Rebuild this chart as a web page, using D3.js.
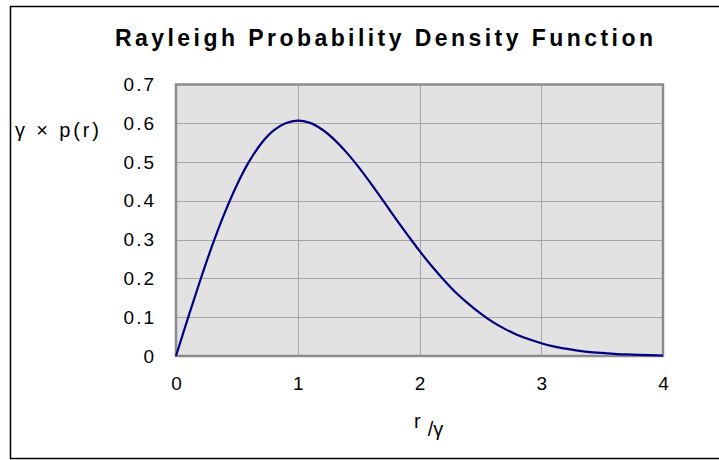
<!DOCTYPE html>
<html>
<head>
<meta charset="utf-8">
<script src="https://cdn.jsdelivr.net/npm/d3@7"></script>
<style>
  html, body { margin: 0; padding: 0; background: #fff; }
  svg { display: block; font-family: "Liberation Sans", Arial, sans-serif; }
</style>
</head>
<body>
<svg id="chart" width="719" height="460"></svg>
<script>
// Rayleigh density sampled along the normalised radius r/γ
const rValues = [0.0, 0.1, 0.2, 0.3, 0.4, 0.5, 0.6, 0.7, 0.8, 0.9,
                 1.0, 1.1, 1.2, 1.3, 1.4, 1.5, 1.6, 1.7, 1.8, 1.9,
                 2.0, 2.1, 2.2, 2.3, 2.4, 2.5, 2.6, 2.7, 2.8, 2.9,
                 3.0, 3.1, 3.2, 3.3, 3.4, 3.5, 3.6, 3.7, 3.8, 3.9, 4.0];
const densityValues = [0.000, 0.0995, 0.196, 0.287, 0.369, 0.441, 0.501, 0.548, 0.581, 0.600,
                       0.607, 0.601, 0.584, 0.558, 0.525, 0.487, 0.445, 0.401, 0.356, 0.313,
                       0.271, 0.232, 0.196, 0.163, 0.135, 0.110, 0.088, 0.070, 0.055, 0.043,
                       0.033, 0.025, 0.019, 0.014, 0.010, 0.008, 0.0055, 0.004, 0.003, 0.002, 0.0013];
const xTicks = [0, 1, 2, 3, 4];
const yTicks = [0, 0.1, 0.2, 0.3, 0.4, 0.5, 0.6, 0.7];
const yTickLabels = ["0", "0.1", "0.2", "0.3", "0.4", "0.5", "0.6", "0.7"];

const svg = d3.select("#chart");
const plot = { left: 176, right: 663, top: 84.5, bottom: 356 };

const x = d3.scaleLinear().domain([0, 4]).range([plot.left, plot.right]);
const y = d3.scaleLinear().domain([0, 0.7]).range([plot.bottom, plot.top]);

// outer chart frame
svg.append("rect")
  .attr("x", 10.5).attr("y", 6.5)
  .attr("width", 720).attr("height", 452)
  .attr("fill", "#fff").attr("stroke", "#000").attr("stroke-width", 1.5);

// plot area background
svg.append("rect")
  .attr("x", plot.left).attr("y", plot.top)
  .attr("width", plot.right - plot.left).attr("height", plot.bottom - plot.top)
  .attr("fill", "#e2e2e2");

// gridlines
const grid = svg.append("g").attr("stroke", "#a6a6a6").attr("stroke-width", 1);
grid.selectAll("line.h").data(yTicks.filter(v => v > 0 && v < 0.7)).join("line")
  .attr("class", "h")
  .attr("x1", plot.left).attr("x2", plot.right)
  .attr("y1", d => Math.round(y(d)) + 0.5).attr("y2", d => Math.round(y(d)) + 0.5);
grid.selectAll("line.v").data(xTicks.filter(v => v > 0 && v < 4)).join("line")
  .attr("class", "v")
  .attr("y1", plot.top).attr("y2", plot.bottom)
  .attr("x1", d => Math.round(x(d)) + 0.5).attr("x2", d => Math.round(x(d)) + 0.5);

// plot area border
svg.append("rect")
  .attr("x", plot.left).attr("y", plot.top)
  .attr("width", plot.right - plot.left).attr("height", plot.bottom - plot.top)
  .attr("fill", "none").attr("stroke", "#8c8c8c").attr("stroke-width", 2.5);

// y axis
const yAxis = d3.axisLeft(y).tickValues(yTicks)
  .tickFormat((d, i) => yTickLabels[i]).tickSize(0).tickPadding(20);
const gy = svg.append("g").attr("transform", `translate(${plot.left},0)`).call(yAxis);
gy.select(".domain").remove();
gy.selectAll("text")
  .attr("font-size", 19).attr("fill", "#000")
  .attr("letter-spacing", "2px")
  .attr("font-family", "Liberation Sans, Arial, sans-serif");

// x axis
const xAxis = d3.axisBottom(x).tickValues(xTicks).tickFormat(d3.format("d"))
  .tickSize(0).tickPadding(21);
const gx = svg.append("g").attr("transform", `translate(0,${plot.bottom})`).call(xAxis);
gx.select(".domain").remove();
gx.selectAll("text")
  .attr("font-size", 19).attr("fill", "#000")
  .attr("font-family", "Liberation Sans, Arial, sans-serif");

// density curve
const line = d3.line()
  .x((d, i) => x(rValues[i]))
  .y(d => y(d))
  .curve(d3.curveCatmullRom.alpha(0.5));
svg.append("path")
  .datum(densityValues)
  .attr("d", line)
  .attr("fill", "none")
  .attr("stroke", "#000080")
  .attr("stroke-width", 2.2)
  .attr("stroke-linejoin", "round");

// title
svg.append("text")
  .attr("x", 115).attr("y", 46)
  .attr("textLength", 538).attr("lengthAdjust", "spacing")
  .attr("font-size", 23).attr("font-weight", "bold")
  .attr("fill", "#000")
  .text("Rayleigh Probability Density Function");

// y axis title
svg.append("text")
  .attr("x", 15).attr("y", 137)
  .attr("font-size", 20).attr("fill", "#000")
  .attr("textLength", 84).attr("lengthAdjust", "spacing")
  .text("γ × p(r)");

// x axis title: r over subscript /γ
const xt = svg.append("text")
  .attr("x", 414).attr("y", 428)
  .attr("font-size", 20).attr("fill", "#000");
xt.append("tspan").text("r");
xt.append("tspan").attr("dx", 7).attr("dy", 8).text("/γ");
</script>
</body>
</html>
